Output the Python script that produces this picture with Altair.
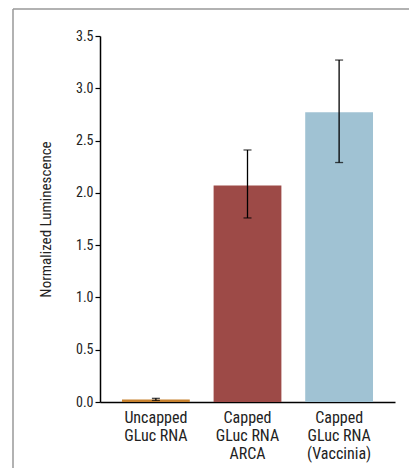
import altair as alt
import pandas as pd

categories = ["Uncapped|GLuc RNA", "Capped|GLuc RNA|ARCA", "Capped|GLuc RNA|(Vaccinia)"]
values = [0.025, 2.07, 2.77]
err_low = [0.015, 1.76, 2.29]
err_high = [0.035, 2.41, 3.27]
colors = ["#c8822f", "#9d4a47", "#a0c2d3"]

df = pd.DataFrame({"cat": categories, "val": values, "lo": err_low, "hi": err_high, "col": colors})

FONT = "Liberation Sans Narrow, Roboto Condensed, Liberation Sans, Arial"

xenc = alt.X("cat:N", sort=categories, title=None,
             scale=alt.Scale(paddingInner=0.26, paddingOuter=0.24),
             axis=alt.Axis(labelAngle=0, ticks=False, domainColor="black", domainWidth=1.5,
                           labelExpr="split(datum.label, '|')", labelFontSize=16,
                           labelColor="#222", labelFont=FONT, labelPadding=7, labelLineHeight=18))

base = alt.Chart(df)

bars = base.mark_bar().encode(
    x=xenc,
    y=alt.Y("val:Q", title="Normalized Luminescence",
            scale=alt.Scale(domain=[0, 3.5], nice=False),
            axis=alt.Axis(values=[0, 0.5, 1, 1.5, 2, 2.5, 3, 3.5], format=".1f", grid=False,
                          domainColor="black", domainWidth=1.5, tickColor="black", tickSize=5,
                          tickWidth=1.2, labelFontSize=14, labelColor="#222", labelFont=FONT,
                          titleFont=FONT, titleFontSize=15, titleFontWeight="normal",
                          titleColor="#222", titlePadding=22)),
    color=alt.Color("col:N", scale=None),
)

rules = base.mark_rule(color="black", strokeWidth=1.3).encode(
    x=alt.X("cat:N", sort=categories), y="lo:Q", y2="hi:Q")
caps_hi = base.mark_tick(color="black", size=8, thickness=1.3, orient="horizontal").encode(
    x=alt.X("cat:N", sort=categories), y="hi:Q")
caps_lo = base.mark_tick(color="black", size=8, thickness=1.3, orient="horizontal").encode(
    x=alt.X("cat:N", sort=categories), y="lo:Q")

one = pd.DataFrame({"a": [0]})
frame_top = alt.Chart(one).mark_rule(color="#999999", strokeWidth=1.5).encode(
    x=alt.value(-87), x2=alt.value(330), y=alt.value(-27), y2=alt.value(-27))
frame_left = alt.Chart(one).mark_rule(color="#999999", strokeWidth=1.5).encode(
    x=alt.value(-87), x2=alt.value(-87), y=alt.value(-27), y2=alt.value(460))

chart = alt.layer(bars, rules, caps_hi, caps_lo, frame_top, frame_left).properties(
    width=295, height=366,
    autosize=alt.AutoSizeParams(type="none"),
    padding={"left": 92, "top": 28, "right": 14, "bottom": 66},
).configure_view(stroke=None).configure_axis(labelFont=FONT)

chart.save("out.html", embed_options={"renderer": "svg", "actions": False})
